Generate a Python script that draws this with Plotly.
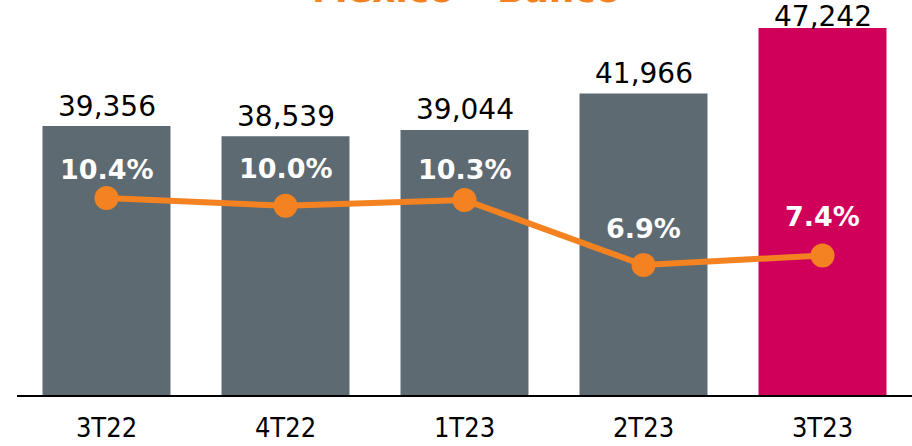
import plotly.graph_objects as go

categories = ["3T22", "4T22", "1T23", "2T23", "3T23"]
values = [39356, 38539, 39044, 41966, 47242]
value_labels = ["39,356", "38,539", "39,044", "41,966", "47,242"]
pct = [10.4, 10.0, 10.3, 6.9, 7.4]
pct_labels = ["10.4%", "10.0%", "10.3%", "6.9%", "7.4%"]
bar_colors = ["#5E6A72", "#5E6A72", "#5E6A72", "#5E6A72", "#D0005A"]

# label placement (pixels above the point), as in the original layout
pct_label_offsets = [29, 37, 30, 37, 39]

FONT = "DejaVu Sans"
W, H = 912, 446
M = dict(l=17, r=0, t=0, b=51)
Y_RANGE = [17710, 49496]
Y2_RANGE = [0.11, 20.75]
plot_h = H - M["t"] - M["b"]

fig = go.Figure()
fig.add_trace(go.Bar(
    x=categories, y=values, marker=dict(color=bar_colors, line=dict(width=0)),
    width=0.715, hoverinfo="skip",
))
fig.add_trace(go.Scatter(
    x=categories, y=pct, yaxis="y2", mode="lines+markers",
    line=dict(color="#F58220", width=6),
    marker=dict(color="#F58220", size=24),
    cliponaxis=False, hoverinfo="skip",
))

# value labels above the bars (kept inside the page at the top)
for c, v, lab in zip(categories, values, value_labels):
    top_from_top = M["t"] + plot_h * (1 - (v - Y_RANGE[0]) / (Y_RANGE[1] - Y_RANGE[0]))
    shift = min(20, top_from_top - 17)
    fig.add_annotation(
        x=c, y=v, xref="x", yref="y", text=lab, showarrow=False,
        xanchor="center", yanchor="middle", yshift=shift,
        font=dict(family=FONT, size=28, color="#000000"),
    )

for c, p, lab, off in zip(categories, pct, pct_labels, pct_label_offsets):
    fig.add_annotation(
        x=c, y=p, xref="x", yref="y2", text="<b>" + lab + "</b>", showarrow=False,
        xanchor="center", yanchor="middle", yshift=off,
        font=dict(family=FONT, size=27, color="#FFFFFF"),
    )

fig.add_annotation(
    text="<b>México – Banco</b>", xref="paper", yref="paper",
    x=(466 - M["l"]) / (W - M["l"] - M["r"]), y=1.0, yshift=-12,
    xanchor="center", yanchor="bottom",
    showarrow=False, font=dict(family=FONT, size=36, color="#F58220"),
)

fig.update_layout(
    width=W, height=H,
    margin=dict(**M, autoexpand=False),
    paper_bgcolor="white", plot_bgcolor="white",
    showlegend=False,
    xaxis=dict(
        range=[-0.5, 4.5], showgrid=False, zeroline=False, automargin=False,
        showline=True, linecolor="#000000", linewidth=2,
        ticks="outside", ticklen=8, tickcolor="rgba(0,0,0,0)",
        tickfont=dict(family="DejaVu Sans Condensed, DejaVu Sans", size=27, color="#000000"),
    ),
    yaxis=dict(range=Y_RANGE, visible=False, showgrid=False, automargin=False),
    yaxis2=dict(range=Y2_RANGE, overlaying="y", visible=False, showgrid=False, automargin=False),
)

fig.write_html(
    "out.html",
    config={"displayModeBar": False},
    post_script="document.body.style.margin='0';document.body.style.overflow='hidden';",
)
